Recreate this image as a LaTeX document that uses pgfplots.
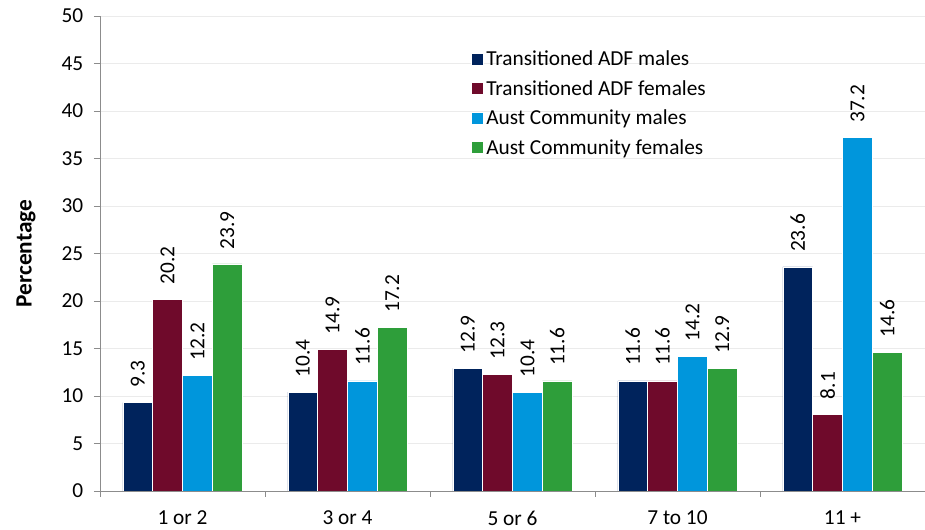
\documentclass[border=0pt]{standalone}
\usepackage{pgfplots}
\pgfplotsset{compat=1.18}
\usepackage{fontspec}
\setmainfont{Carlito}

\definecolor{adfm}{RGB}{0,35,92}
\definecolor{adff}{RGB}{111,10,43}
\definecolor{austm}{RGB}{0,150,220}
\definecolor{austf}{RGB}{46,158,58}
\definecolor{axgray}{RGB}{140,140,140}

\begin{document}
\begin{tikzpicture}
\begin{axis}[
    scale only axis,
    width=618.75pt, height=356.25pt,
    ymin=0, ymax=50,
    ytick={0,5,...,50},
    xmin=-0.5, xmax=4.5,
    xtick={0,1,2,3,4},
    xticklabels={1 or 2, 3 or 4, 5 or 6, 7 to 10, 11 +},
    minor xtick={-0.5,0.5,...,4.5},
    major x tick style={draw=none},
    axis lines*=left,
    axis line style={draw=axgray},
    tick style={draw=axgray},
    tick align=outside,
    major tick length=4.5pt,
    minor tick length=4.5pt,
    ymajorgrids=true,
    grid style={draw=black!8},
    ticklabel style={font=\fontsize{16}{19}\selectfont},
    xticklabel style={yshift=-7pt},
    yticklabel style={xshift=-4.5pt},
    /pgf/number format/assume math mode=true,
    ylabel={\textbf{Percentage}},
    ylabel style={at={(axis description cs:-0.0897,0.5)}, anchor=center, rotate=0,
        font=\fontsize{17.5}{20}\selectfont},
    ybar=0pt,
    bar width=0.181,
    nodes near coords,
    nodes near coords style={rotate=90, anchor=west, inner xsep=11pt,
        font=\fontsize{16}{19}\selectfont, text=black},
    legend style={at={(axis description cs:0.4497,0.933)}, anchor=north west,
        draw=none, fill=none, inner sep=0pt, row sep=5.5pt,
        font=\fontsize{16}{19}\selectfont},
    legend cell align=left,
    legend image code/.code={\fill[#1] (0pt,-4.5pt) rectangle (9pt,4.5pt);},
]
\addplot[fill=adfm, draw=white, line width=0.3pt] coordinates {(0,9.3) (1,10.4) (2,12.9) (3,11.6) (4,23.6)};
\addplot[fill=adff, draw=white, line width=0.3pt] coordinates {(0,20.2) (1,14.9) (2,12.3) (3,11.6) (4,8.1)};
\addplot[fill=austm, draw=white, line width=0.3pt] coordinates {(0,12.2) (1,11.6) (2,10.4) (3,14.2) (4,37.2)};
\addplot[fill=austf, draw=white, line width=0.3pt] coordinates {(0,23.9) (1,17.2) (2,11.6) (3,12.9) (4,14.6)};
\legend{Transitioned ADF males, Transitioned ADF females, Aust Community males, Aust Community females}
\end{axis}
\pgfresetboundingbox
\path[use as bounding box] (-75pt,-29.25pt) rectangle (618.75pt,368.25pt);
\end{tikzpicture}
\end{document}
